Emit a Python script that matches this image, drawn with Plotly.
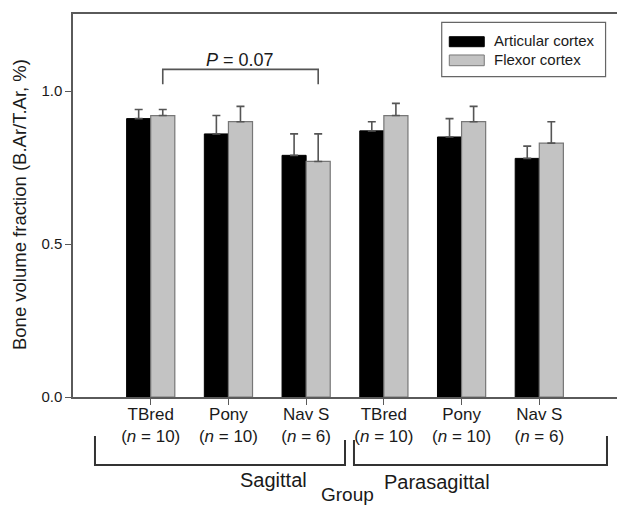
import plotly.graph_objects as go

# ---- data ----
groups = ["TBred", "Pony", "Nav S", "TBred", "Pony", "Nav S"]
n_values = [10, 10, 6, 10, 10, 6]
planes = ["Sagittal", "Parasagittal"]
series_names = ["Articular cortex", "Flexor cortex"]
articular = [0.91, 0.86, 0.79, 0.87, 0.85, 0.78]
articular_err = [0.03, 0.06, 0.07, 0.03, 0.06, 0.04]
flexor = [0.92, 0.90, 0.77, 0.92, 0.90, 0.83]
flexor_err = [0.02, 0.05, 0.09, 0.04, 0.05, 0.07]
p_text = "<i>P</i> = 0.07"
y_ticks = [0.0, 0.5, 1.0]

FONT = "Liberation Sans, Arial, sans-serif"
TXT = "#1a1a1a"
AX = "#5a5a5a"

xpos = list(range(len(groups)))
ticktext = [f"{g}<br>(<i>n</i> = {n})" for g, n in zip(groups, n_values)]

fig = go.Figure()
fig.add_trace(go.Bar(
    x=xpos, y=articular, name=series_names[0],
    marker=dict(color="#000000", line=dict(color="#000000", width=1)),
    error_y=dict(type="data", array=articular_err, arrayminus=[0]*len(articular),
                 symmetric=False, color="#555", thickness=1.6, width=4),
    showlegend=False,
))
fig.add_trace(go.Bar(
    x=xpos, y=flexor, name=series_names[1],
    marker=dict(color="#c3c3c3", line=dict(color="#777777", width=1.2)),
    error_y=dict(type="data", array=flexor_err, arrayminus=[0]*len(flexor),
                 symmetric=False, color="#555", thickness=1.6, width=4),
    showlegend=False,
))

shapes = []
annotations = []

# P-value bracket (between TBred flexor and Nav S flexor, sagittal)
off = 0.155
shapes.append(dict(type="path", xref="x", yref="y",
                   path=f"M{xpos[0]+off},1.022 L{xpos[0]+off},1.071 L{xpos[2]+off},1.071 L{xpos[2]+off},1.022",
                   line=dict(color="#555", width=1.6)))
annotations.append(dict(x=(xpos[0]+xpos[2])/2 + off - 0.005, y=1.101, xref="x", yref="y",
                        text=p_text, showarrow=False, yanchor="middle",
                        font=dict(size=18, color=TXT, family=FONT)))

# group brackets below axis (paper coords)
def bracket(x0, x1, ytop_l, ytop_r, ybot):
    return dict(type="path", xref="paper", yref="paper",
                path=f"M{x0},{ytop_l} L{x0},{ybot} L{x1},{ybot} L{x1},{ytop_r}",
                line=dict(color="#333", width=2))

shapes.append(bracket(0.0404, 0.500, -0.1018, -0.1123, -0.1775))
shapes.append(bracket(0.5165, 0.9816, -0.1123, -0.1018, -0.1775))
annotations.append(dict(x=0.3033, y=-0.2167, xref="paper", yref="paper", text=planes[0],
                        showarrow=False, yanchor="middle", font=dict(size=20, color=TXT, family=FONT)))
annotations.append(dict(x=0.770, y=-0.222, xref="paper", yref="paper", text=planes[1],
                        showarrow=False, yanchor="middle", font=dict(size=20, color=TXT, family=FONT)))
annotations.append(dict(x=0.5055, y=-0.2545, xref="paper", yref="paper", text="Group",
                        showarrow=False, yanchor="middle", font=dict(size=19, color=TXT, family=FONT)))
annotations.append(dict(x=-0.0983, y=0.5026, xref="paper", yref="paper",
                        text="Bone volume fraction (B.Ar/T.Ar, %)", textangle=-90,
                        showarrow=False, xanchor="center", yanchor="middle",
                        font=dict(size=18.5, color=TXT, family=FONT)))

# custom legend
shapes.append(dict(type="rect", xref="paper", yref="paper", x0=0.6778, x1=0.979, y0=0.8363, y1=0.9783,
                   line=dict(color="#666", width=1.2), fillcolor="white"))
shapes.append(dict(type="rect", xref="paper", yref="paper", x0=0.6917, x1=0.756, y0=0.9146, y1=0.9407,
                   line=dict(color="#000", width=1), fillcolor="#000"))
shapes.append(dict(type="rect", xref="paper", yref="paper", x0=0.6917, x1=0.756, y0=0.865, y1=0.893,
                   line=dict(color="#777", width=1), fillcolor="#c3c3c3"))
annotations.append(dict(x=0.7697, y=0.9303, xref="paper", yref="paper", text=series_names[0],
                        showarrow=False, xanchor="left", yanchor="middle",
                        font=dict(size=15, color=TXT, family=FONT)))
annotations.append(dict(x=0.7697, y=0.8799, xref="paper", yref="paper", text=series_names[1],
                        showarrow=False, xanchor="left", yanchor="middle",
                        font=dict(size=15, color=TXT, family=FONT)))

fig.update_layout(
    width=617, height=507,
    margin=dict(l=73, r=0, t=14, b=110),
    paper_bgcolor="white", plot_bgcolor="white",
    barmode="group", bargap=0.38, bargroupgap=0,
    font=dict(family=FONT, color=TXT),
    shapes=shapes, annotations=annotations,
    xaxis=dict(range=[-1, 6], tickmode="array", tickvals=xpos, ticktext=ticktext,
               ticks="outside", ticklen=6, tickcolor=AX, tickwidth=1.2,
               ticklabelstandoff=-5,
               showline=True, linecolor=AX, linewidth=1.5, mirror=True,
               showgrid=False, zeroline=False,
               tickfont=dict(size=17, color=TXT, family=FONT)),
    yaxis=dict(range=[0, 1.252], tickmode="array", tickvals=y_ticks,
               ticktext=[f"{v:.1f}" for v in y_ticks],
               ticks="outside", ticklen=6, tickcolor=AX, tickwidth=1.2,
               showline=True, linecolor=AX, linewidth=1.5,
               showgrid=False, zeroline=False,
               tickfont=dict(size=15, color=TXT, family=FONT)),
)

fig.write_html("out.html")
